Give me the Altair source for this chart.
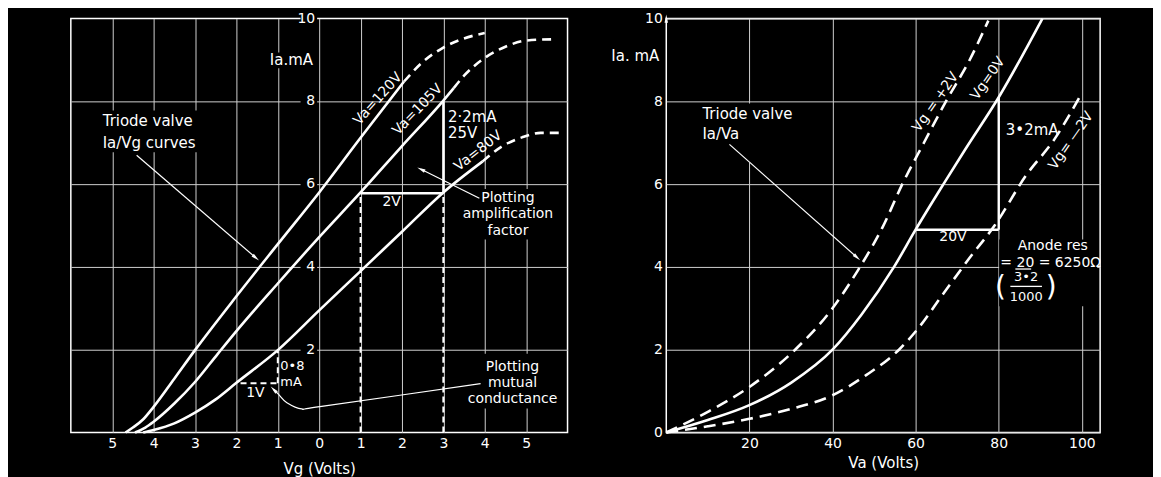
import math
import altair as alt
import pandas as pd

FONT = "DejaVu Sans"
WHITE = "#ffffff"
GRID = "#cfcfcf"

# ---------------- left panel: Ia (mA) against Vg (V) ----------------
L120_VG = [-4.68, -4.5, -4.25, -4.0, -3.5, -3.0, -2.0, -1.0, 0.0, 1.0, 2.05]
L120_IA = [0.0, 0.12, 0.32, 0.62, 1.3, 1.99, 3.29, 4.55, 5.8, 7.12, 8.48]
L120D_VG = [2.05, 2.5, 3.0, 3.5, 4.0]
L120D_IA = [8.48, 8.95, 9.3, 9.52, 9.65]
L105_VG = [-4.45, -4.2, -4.0, -3.5, -3.0, -2.45, -2.0, -1.0, 0.0, 1.0, 2.0, 3.0, 3.25]
L105_IA = [0.0, 0.12, 0.26, 0.7, 1.22, 1.9, 2.45, 3.6, 4.72, 5.8, 6.92, 8.02, 8.32]
L105D_VG = [3.25, 3.5, 4.0, 4.5, 5.0, 5.65]
L105D_IA = [8.32, 8.62, 9.05, 9.32, 9.47, 9.5]
L80_VG = [-4.25, -4.0, -3.5, -3.0, -2.5, -2.0, -1.0, 0.0, 1.0, 2.0, 3.0, 3.95]
L80_IA = [0.0, 0.06, 0.22, 0.48, 0.8, 1.2, 1.99, 2.95, 3.9, 4.85, 5.8, 6.55]
L80D_VG = [3.95, 4.4, 4.9, 5.35, 5.85]
L80D_IA = [6.55, 6.9, 7.13, 7.24, 7.24]

L_XTICKS = [-5, -4, -3, -2, -1, 0, 1, 2, 3, 4, 5]
L_YTICKS = [2, 4, 6, 8, 10]

# ---------------- right panel: Ia (mA) against Va (V) ----------------
R0_VA = [0, 10, 20, 30, 40, 47, 54.8, 60, 66.7, 72, 80, 90.5]
R0_IA = [0, 0.3, 0.66, 1.2, 2.0, 2.85, 4.0, 4.9, 6.0, 6.85, 8.1, 10.0]
RP2_VA = [0, 10, 20, 31, 40, 46, 52, 56.8, 62, 67.3, 73, 77.5]
RP2_IA = [0, 0.5, 1.1, 2.0, 3.0, 3.9, 4.95, 6.0, 7.0, 8.0, 9.0, 9.95]
RM2_VA = [0, 10, 20, 30, 40, 48, 56, 60, 67, 73, 79, 86.5, 93.5, 100]
RM2_IA = [0, 0.15, 0.33, 0.57, 0.9, 1.38, 2.0, 2.44, 3.4, 4.22, 5.0, 6.2, 7.1, 8.2]

R_XTICKS = [20, 40, 60, 80, 100]
R_YTICKS = [0, 2, 4, 6, 8, 10]

LW, LH = 498, 415
RW, RH = 435, 415
L_XDOM = [-6, 6]
R_XDOM = [0, 104.4]
YDOM = [0, 10]

HEAD = "M0,-1L0.42,1L-0.42,1Z"
TS = 15  # annotation text size


def series(pairs):
    rows = []
    for name, xs, ys in pairs:
        for i, (x, y) in enumerate(zip(xs, ys)):
            rows.append({"s": name, "x": x, "y": y, "o": i})
    return pd.DataFrame(rows)


def head_angle(p1, p2, sx, sy):
    dx = (p2[0] - p1[0]) * sx
    dy = -(p2[1] - p1[1]) * sy
    return math.degrees(math.atan2(dx, -dy)) % 360


def make_enc(xdom, xaxis, yaxis):
    X = alt.X("x:Q", scale=alt.Scale(domain=xdom, nice=False, zero=False), axis=xaxis)
    Y = alt.Y("y:Q", scale=alt.Scale(domain=YDOM, nice=False, zero=False), axis=yaxis)
    return X, Y


def text_layer(df, X, Y, align="left", size=TS, rotated=False, dx=0):
    enc = dict(x=X, y=Y, text="t:N")
    if rotated:
        enc["angle"] = alt.Angle("a:Q", scale=None)
    return alt.Chart(df).mark_text(
        align=align, baseline="middle", font=FONT, fontSize=size, color=WHITE, dx=dx
    ).encode(**enc)


def blank_layer(df, X, Y):
    # black patches behind text blocks, as in the printed figure
    return alt.Chart(df).mark_rect(color="black", opacity=1).encode(
        x=X, y=Y, x2="x2:Q", y2="y2:Q")


# ======================= LEFT =======================
lx_axis = alt.Axis(
    values=L_XTICKS, labelExpr="abs(datum.value)", grid=True, gridColor=GRID,
    gridWidth=1, domain=False, ticks=False, labelColor=WHITE, labelFont=FONT,
    labelFontSize=14, labelPadding=4, title="Vg (Volts)", titleColor=WHITE,
    titleFont=FONT, titleFontSize=15, titleFontWeight="normal", titlePadding=11,
)
ly_axis = alt.Axis(
    values=[2, 4, 6, 8], grid=True, gridColor=GRID, gridWidth=1, labels=False,
    ticks=False, domain=False, title="",
)
LX, LY = make_enc(L_XDOM, lx_axis, ly_axis)

left_layers = []
left_layers.append(blank_layer(pd.DataFrame({
    "x": [-5.3, 3.78, 3.78, -1.31] + [-0.45] * 5,
    "x2": [-2.9, 5.46, 5.63, -0.11] + [-0.05] * 5,
    "y": [7.78, 5.88, 1.9, 9.18] + [v + 0.17 for v in L_YTICKS],
    "y2": [6.77, 4.66, 0.58, 8.8] + [v - 0.17 for v in L_YTICKS],
}), LX, LY))

l_solid = series([("120", L120_VG, L120_IA), ("105", L105_VG, L105_IA), ("80", L80_VG, L80_IA)])
l_dash = series([("120", L120D_VG, L120D_IA), ("105", L105D_VG, L105D_IA), ("80", L80D_VG, L80D_IA)])

left_layers.append(
    alt.Chart(l_solid).mark_line(color=WHITE, strokeWidth=2.6, interpolate="monotone")
    .encode(x=LX, y=LY, detail="s:N", order="o:Q")
)
left_layers.append(
    alt.Chart(l_dash).mark_line(color=WHITE, strokeWidth=2.6, interpolate="monotone", strokeDash=[9, 6])
    .encode(x=LX, y=LY, detail="s:N", order="o:Q")
)

# construction lines
l_dashed_rules = pd.DataFrame({
    "x": [1, 3, -1.9, -1], "y": [0, 0, 1.19, 1.19],
    "x2": [1, 3, -1, -1], "y2": [5.78, 5.78, 1.19, 2.0],
})
l_solid_rules = pd.DataFrame({"x": [1, 3], "y": [5.78, 5.78], "x2": [3, 3], "y2": [5.78, 8.0]})
left_layers.append(
    alt.Chart(l_dashed_rules).mark_rule(color=WHITE, strokeWidth=2, strokeDash=[6, 4])
    .encode(x=LX, y=LY, x2="x2:Q", y2="y2:Q")
)
left_layers.append(
    alt.Chart(l_solid_rules).mark_rule(color=WHITE, strokeWidth=2.4)
    .encode(x=LX, y=LY, x2="x2:Q", y2="y2:Q")
)

# arrows
la_pts = [
    ("a1", [(-4.41, 6.7), (-1.53, 4.22)]),
    ("a2", [(3.87, 5.66), (2.46, 6.36)]),
    ("a3", [(3.9, 1.18), (0.06, 0.63), (-0.42, 0.57), (-0.78, 0.72), (-0.98, 0.92), (-1.1, 1.04)]),
]
rows, heads = [], []
for name, pts in la_pts:
    for i, (x, y) in enumerate(pts):
        rows.append({"s": name, "x": x, "y": y, "o": i})
    heads.append({"x": pts[-1][0], "y": pts[-1][1],
                  "a": head_angle(pts[-2], pts[-1], LW / 12, LH / 10)})
left_layers.append(
    alt.Chart(pd.DataFrame(rows)).mark_line(color=WHITE, strokeWidth=1.2, interpolate="cardinal")
    .encode(x=LX, y=LY, detail="s:N", order="o:Q")
)
left_layers.append(
    alt.Chart(pd.DataFrame(heads)).mark_point(shape=HEAD, filled=True, color=WHITE, size=70, opacity=1)
    .encode(x=LX, y=LY, angle=alt.Angle("a:Q", scale=None))
)

# y tick labels on the Vg = 0 line
left_layers.append(text_layer(
    pd.DataFrame({"x": [0] * len(L_YTICKS), "y": L_YTICKS, "t": [str(v) for v in L_YTICKS]}),
    LX, LY, align="right", size=14, dx=-4))

left_layers.append(text_layer(pd.DataFrame({
    "x": [-0.15], "y": [9.0], "t": ["Ia.mA"]}), LX, LY, align="right"))
left_layers.append(text_layer(pd.DataFrame({
    "x": [-5.23, -5.23, 3.11, 3.11],
    "y": [7.52, 6.99, 7.62, 7.24],
    "t": ["Triode  valve", "Ia/Vg  curves", "2·2mA", "25V"]}), LX, LY, align="left"))
left_layers.append(text_layer(pd.DataFrame({
    "x": [-0.94, -0.94], "y": [1.6, 1.23], "t": ["0•8", "mA"]}), LX, LY, align="left", size=13))
left_layers.append(text_layer(pd.DataFrame({
    "x": [4.56, 4.56, 4.56, 4.67, 4.67, 4.67, 1.75, -1.54],
    "y": [5.66, 5.27, 4.88, 1.59, 1.2, 0.81, 5.57, 0.96],
    "t": ["Plotting", "amplification", "factor", "Plotting", "mutual", "conductance", "2V", "1V"]}),
    LX, LY, align="center", size=14))
left_layers.append(text_layer(pd.DataFrame({
    "x": [1.42, 2.38, 3.84], "y": [8.06, 7.8, 6.8],
    "t": ["Va=120V", "Va=105V", "Va=80V"], "a": [312, 314, 322]}), LX, LY, align="center",
    size=14, rotated=True))

left = alt.layer(*left_layers).properties(width=LW, height=LH)

# ======================= RIGHT =======================
rx_axis = alt.Axis(
    values=R_XTICKS, grid=True, gridColor=GRID, gridWidth=1, domain=False, ticks=False,
    labelColor=WHITE, labelFont=FONT, labelFontSize=14, labelPadding=4,
    title="Va (Volts)", titleColor=WHITE, titleFont=FONT, titleFontSize=15,
    titleFontWeight="normal", titlePadding=5,
)
ry_axis = alt.Axis(
    values=R_YTICKS, grid=True, gridColor=GRID, gridWidth=1, domain=False, ticks=False,
    labelColor=WHITE, labelFont=FONT, labelFontSize=14, labelPadding=4, title="",
)
RX, RY = make_enc(R_XDOM, rx_axis, ry_axis)

right_layers = []
right_layers.append(blank_layer(pd.DataFrame({
    "x": [8.0, 80.1], "x2": [33.2, 103.7],
    "y": [7.95, 4.66], "y2": [6.52, 3.05],
}), RX, RY))

r_solid = series([("0", R0_VA, R0_IA)])
r_dash = series([("+2", RP2_VA, RP2_IA), ("-2", RM2_VA, RM2_IA)])

right_layers.append(
    alt.Chart(r_solid).mark_line(color=WHITE, strokeWidth=2.6, interpolate="monotone")
    .encode(x=RX, y=RY, detail="s:N", order="o:Q")
)
right_layers.append(
    alt.Chart(r_dash).mark_line(color=WHITE, strokeWidth=2.6, interpolate="monotone", strokeDash=[12, 7])
    .encode(x=RX, y=RY, detail="s:N", order="o:Q")
)
r_rules = pd.DataFrame({"x": [60, 80], "y": [4.9, 4.9], "x2": [80, 80], "y2": [4.9, 8.1]})
right_layers.append(
    alt.Chart(r_rules).mark_rule(color=WHITE, strokeWidth=2.4)
    .encode(x=RX, y=RY, x2="x2:Q", y2="y2:Q")
)
# underline of 20 and fraction bar
r_thin = pd.DataFrame({"x": [84.0, 82.8], "y": [3.95, 3.53], "x2": [87.8, 90.4], "y2": [3.95, 3.53]})
right_layers.append(
    alt.Chart(r_thin).mark_rule(color=WHITE, strokeWidth=1.3)
    .encode(x=RX, y=RY, x2="x2:Q", y2="y2:Q")
)
ra_pts = [("b1", [(15.2, 6.96), (45.9, 4.23)])]
rows, heads = [], []
for name, pts in ra_pts:
    for i, (x, y) in enumerate(pts):
        rows.append({"s": name, "x": x, "y": y, "o": i})
    heads.append({"x": pts[-1][0], "y": pts[-1][1],
                  "a": head_angle(pts[-2], pts[-1], RW / 104.4, RH / 10)})
heads.append({"x": 0, "y": 10, "a": 0})
right_layers.append(
    alt.Chart(pd.DataFrame(rows)).mark_line(color=WHITE, strokeWidth=1.2)
    .encode(x=RX, y=RY, detail="s:N", order="o:Q")
)
right_layers.append(
    alt.Chart(pd.DataFrame(heads)).mark_point(shape=HEAD, filled=True, color=WHITE, size=70, opacity=1)
    .encode(x=RX, y=RY, angle=alt.Angle("a:Q", scale=None))
)
right_layers.append(text_layer(pd.DataFrame({
    "x": [-1.7], "y": [9.1], "t": ["Ia. mA"]}), RX, RY, align="right"))
right_layers.append(text_layer(pd.DataFrame({
    "x": [8.7, 8.7, 81.7], "y": [7.69, 7.2, 7.32],
    "t": ["Triode  valve", "Ia/Va", "3•2mA"]}), RX, RY, align="left"))
right_layers.append(text_layer(pd.DataFrame({
    "x": [69.0, 93.0, 92.5], "y": [4.73, 4.5, 4.1],
    "t": ["20V", "Anode  res", "= 20 = 6250Ω"]}), RX, RY, align="center", size=14))
right_layers.append(text_layer(pd.DataFrame({
    "x": [86.6, 86.6], "y": [3.75, 3.28],
    "t": ["3•2", "1000"]}), RX, RY, align="center", size=13))
right_layers.append(text_layer(pd.DataFrame({
    "x": [80.4, 92.6], "y": [3.5, 3.5], "t": ["(", ")"]}), RX, RY, align="center", size=28))
right_layers.append(text_layer(pd.DataFrame({
    "x": [64.8, 77.4, 97.4], "y": [7.98, 8.55, 7.05],
    "t": ["Vg = +2V", "Vg=0V", "Vg= —2V"], "a": [305, 305, 305]}), RX, RY, align="center",
    size=14, rotated=True))

right = alt.layer(*right_layers).properties(width=RW, height=RH)

chart = alt.hconcat(left, right, spacing=99, bounds="flush").properties(
    background="black",
    padding={"left": 62, "top": 2, "right": 51, "bottom": 0},
).configure_view(stroke=WHITE, strokeWidth=1.5)

chart.save("out.html", embed_options={"renderer": "svg", "actions": False})
